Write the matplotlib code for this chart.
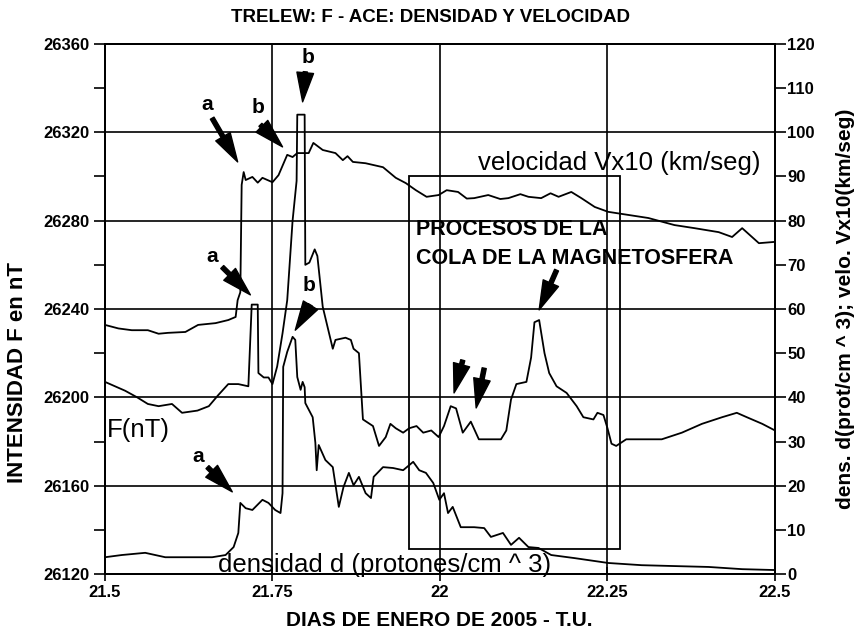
import matplotlib
matplotlib.use('Agg')
import matplotlib.pyplot as plt
from matplotlib.patches import Rectangle
from matplotlib.ticker import MultipleLocator

plt.rcParams['font.family'] = ['Liberation Sans', 'DejaVu Sans']

# campo total F en Trelew (nT)
f_day = [21.500, 21.515, 21.530, 21.548, 21.564, 21.580, 21.600, 21.615, 21.638, 21.655,
         21.669, 21.684, 21.699, 21.714, 21.719,
         21.728, 21.729, 21.737, 21.744, 21.750, 21.757, 21.765, 21.772, 21.780, 21.786,
         21.787, 21.798, 21.799, 21.805, 21.813, 21.817, 21.825, 21.840, 21.844, 21.859,
         21.867, 21.871, 21.879, 21.885, 21.900, 21.909, 21.919, 21.926, 21.934, 21.945, 21.954,
         21.965, 21.975, 21.987, 21.998, 22.006, 22.016, 22.024, 22.034, 22.046, 22.058, 22.091, 22.099,
         22.106, 22.114, 22.129, 22.136, 22.141, 22.148, 22.156, 22.163, 22.174, 22.189,
         22.204, 22.214, 22.229, 22.235, 22.244, 22.250, 22.256, 22.263, 22.278, 22.331,
         22.361, 22.391, 22.421, 22.443, 22.458, 22.481, 22.500]
f_nt = [26207, 26205, 26203, 26200, 26197, 26196, 26197, 26193, 26194, 26196,
        26201, 26206, 26206, 26205, 26242,
        26242, 26211, 26209, 26209, 26206, 26214, 26229, 26244, 26280, 26298,
        26328, 26328, 26260, 26261, 26267, 26264, 26241, 26222, 26226, 26227,
        26226, 26222, 26220, 26190, 26187, 26178, 26182, 26188, 26186, 26184, 26186,
        26187, 26184, 26185, 26182, 26187, 26196, 26195, 26184, 26189, 26181, 26181, 26185,
        26199, 26206, 26207, 26218, 26234, 26235, 26220, 26211, 26205, 26202,
        26196, 26191, 26190, 26193, 26192, 26186, 26179, 26178, 26181, 26181,
        26184, 26188, 26191, 26193, 26191, 26188, 26185]

# velocidad ACE (x10 km/seg)
v_day = [21.500, 21.520, 21.540, 21.564, 21.580, 21.594, 21.620, 21.639, 21.665, 21.684,
         21.695, 21.698, 21.702, 21.704, 21.707, 21.710, 21.720, 21.728, 21.735, 21.750,
         21.759, 21.772, 21.780, 21.787, 21.804, 21.811, 21.825, 21.844, 21.855, 21.862,
         21.870, 21.889, 21.915, 21.934, 21.949, 21.964, 21.980, 21.998, 22.010, 22.027,
         22.040, 22.051, 22.072, 22.090, 22.102, 22.120, 22.132, 22.151, 22.165, 22.177,
         22.196, 22.211, 22.231, 22.251, 22.281, 22.311, 22.350, 22.380, 22.416, 22.436,
         22.451, 22.476, 22.500]
v_val = [56.4, 55.6, 55.2, 55.2, 54.4, 54.6, 54.8, 56.4, 56.8, 57.5,
         58.2, 62.0, 63.8, 88.1, 91.0, 89.2, 89.9, 88.6, 89.7, 88.7,
         90.3, 94.9, 94.4, 95.3, 95.3, 97.6, 96.0, 95.3, 93.7, 94.6,
         93.3, 93.0, 92.1, 89.7, 88.5, 86.9, 85.4, 85.8, 86.9, 86.5,
         85.0, 85.1, 85.8, 84.9, 85.1, 86.0, 85.4, 85.1, 86.2, 85.4,
         86.5, 85.1, 83.1, 82.0, 81.3, 80.6, 79.0, 78.3, 77.4, 76.3,
         78.3, 74.9, 75.2]

# densidad ACE (protones/cm^3)
d_day = [21.500, 21.525, 21.560, 21.590, 21.624, 21.660, 21.680, 21.692, 21.699, 21.702,
         21.710, 21.720, 21.735, 21.744, 21.754, 21.762, 21.765, 21.766, 21.772, 21.780,
         21.784, 21.787, 21.792, 21.795, 21.798, 21.799, 21.810, 21.814, 21.816, 21.819,
         21.829, 21.840, 21.849, 21.856, 21.864, 21.871, 21.879, 21.889, 21.897, 21.901,
         21.915, 21.930, 21.945, 21.960, 21.969, 21.979, 21.990, 21.999, 22.006, 22.012,
         22.019, 22.031, 22.051, 22.066, 22.076, 22.094, 22.106, 22.118, 22.132, 22.147,
         22.166, 22.201, 22.251, 22.301, 22.350, 22.401, 22.451, 22.500]
d_val = [3.8, 4.3, 4.8, 3.8, 3.8, 3.8, 4.3, 6.1, 9.3, 16.1,
         14.9, 14.5, 16.8, 16.1, 14.5, 13.8, 18.3, 46.9, 50.3, 53.7,
         53.0, 44.6, 41.7, 43.5, 42.3, 38.7, 35.5, 29.7, 23.5, 29.2,
         25.8, 24.2, 15.2, 19.7, 22.9, 20.1, 22.0, 18.3, 17.2, 22.0,
         24.2, 24.0, 23.5, 25.4, 23.5, 22.9, 20.6, 16.8, 18.3, 13.8,
         15.2, 10.6, 10.6, 10.4, 8.4, 9.3, 6.6, 8.2, 6.1, 5.9,
         4.3, 3.6, 2.5, 2.0, 1.8, 1.6, 1.1, 0.9]

fig = plt.figure(figsize=(8.57, 6.31), dpi=100)
ax = fig.add_axes([0.1225, 0.0903, 0.7818, 0.84])
ax2 = ax.twinx()

ax.plot(f_day, f_nt, color='black', lw=1.3)
ax2.plot(v_day, v_val, color='black', lw=1.3)
ax2.plot(d_day, d_val, color='black', lw=1.3)

ax.set_xlim(21.5, 22.5)
ax.set_ylim(26120, 26360)
ax2.set_ylim(0, 120)

ax.set_xticks([21.5, 21.75, 22, 22.25, 22.5])
ax.set_xticklabels(['21.5', '21.75', '22', '22.25', '22.5'])
ax.set_yticks(range(26120, 26361, 40))
ax.yaxis.set_minor_locator(MultipleLocator(20))
ax2.set_yticks(range(0, 121, 10))

ax.grid(True, color='black', lw=1.2)
for a in (ax, ax2):
    for s in a.spines.values():
        s.set_linewidth(1.4)
ax.tick_params(axis='x', direction='inout', length=10, width=1.2, labelsize=12, pad=3)
ax.tick_params(axis='y', which='both', direction='out', length=8, width=1.2, labelsize=12)
ax2.tick_params(axis='y', direction='out', length=8, width=1.2, labelsize=12, pad=1)
for lab in ax.get_xticklabels() + ax.get_yticklabels() + ax2.get_yticklabels():
    lab.set_fontweight('bold')

fig.text(0.502, 0.973, 'TRELEW: F - ACE: DENSIDAD Y VELOCIDAD', ha='center', va='center',
         fontsize=13.5, fontweight='bold')
fig.text(0.513, 0.017, 'DIAS DE ENERO DE 2005 - T.U.', ha='center', va='center',
         fontsize=15, fontweight='bold')
fig.text(0.021, 0.41, 'INTENSIDAD F en nT', rotation=90, ha='center', va='center',
         fontsize=16, fontweight='bold')
fig.text(0.986, 0.51, 'dens. d(prot/cm ^ 3); velo. Vx10(km/seg)', rotation=90,
         ha='center', va='center', fontsize=15, fontweight='bold')

# recuadro de procesos de la cola
ax2.add_patch(Rectangle((21.954, 5.7), 22.268 - 21.954, 90.1 - 5.7, fill=False,
                        edgecolor='black', lw=1.3))

ax2.text(22.057, 93.0, 'velocidad Vx10 (km/seg)', fontsize=18.5, va='center')
ax2.text(21.964, 77.9, 'PROCESOS DE LA', fontsize=15.5, fontweight='bold', va='center')
ax2.text(21.964, 71.5, 'COLA DE LA MAGNETOSFERA', fontsize=15.5, fontweight='bold', va='center')
ax2.text(21.503, 32.6, 'F(nT)', fontsize=18.5, va='center')
ax2.text(21.669, 2.0, 'densidad d (protones/cm ^ 3)', fontsize=18.5, va='center')

letters = [('a', 21.653, 106.2), ('b', 21.728, 105.7), ('b', 21.803, 117.0),
           ('a', 21.660, 71.8), ('b', 21.804, 65.4), ('a', 21.639, 26.5)]
for s, x, y in letters:
    ax2.text(x, y, s, fontsize=15, fontweight='bold', ha='center', va='center')

arrows = [((21.660, 103.2), (21.698, 93.3)), ((21.732, 101.7), (21.765, 96.7)),
          ((21.799, 113.7), (21.795, 106.9)), ((21.675, 69.5), (21.717, 63.2)),
          ((21.807, 60.9), (21.784, 55.2)), ((21.653, 24.2), (21.690, 18.6)),
          ((22.034, 48.4), (22.021, 41.0)), ((22.066, 46.6), (22.054, 37.6)),
          ((22.174, 68.8), (22.148, 59.8))]
for tail, head in arrows:
    ax2.annotate('', xy=head, xytext=tail,
                 arrowprops=dict(facecolor='black', edgecolor='black', width=3,
                                 headwidth=12, headlength=21, shrink=0))

fig.savefig('out.png', dpi=100)
